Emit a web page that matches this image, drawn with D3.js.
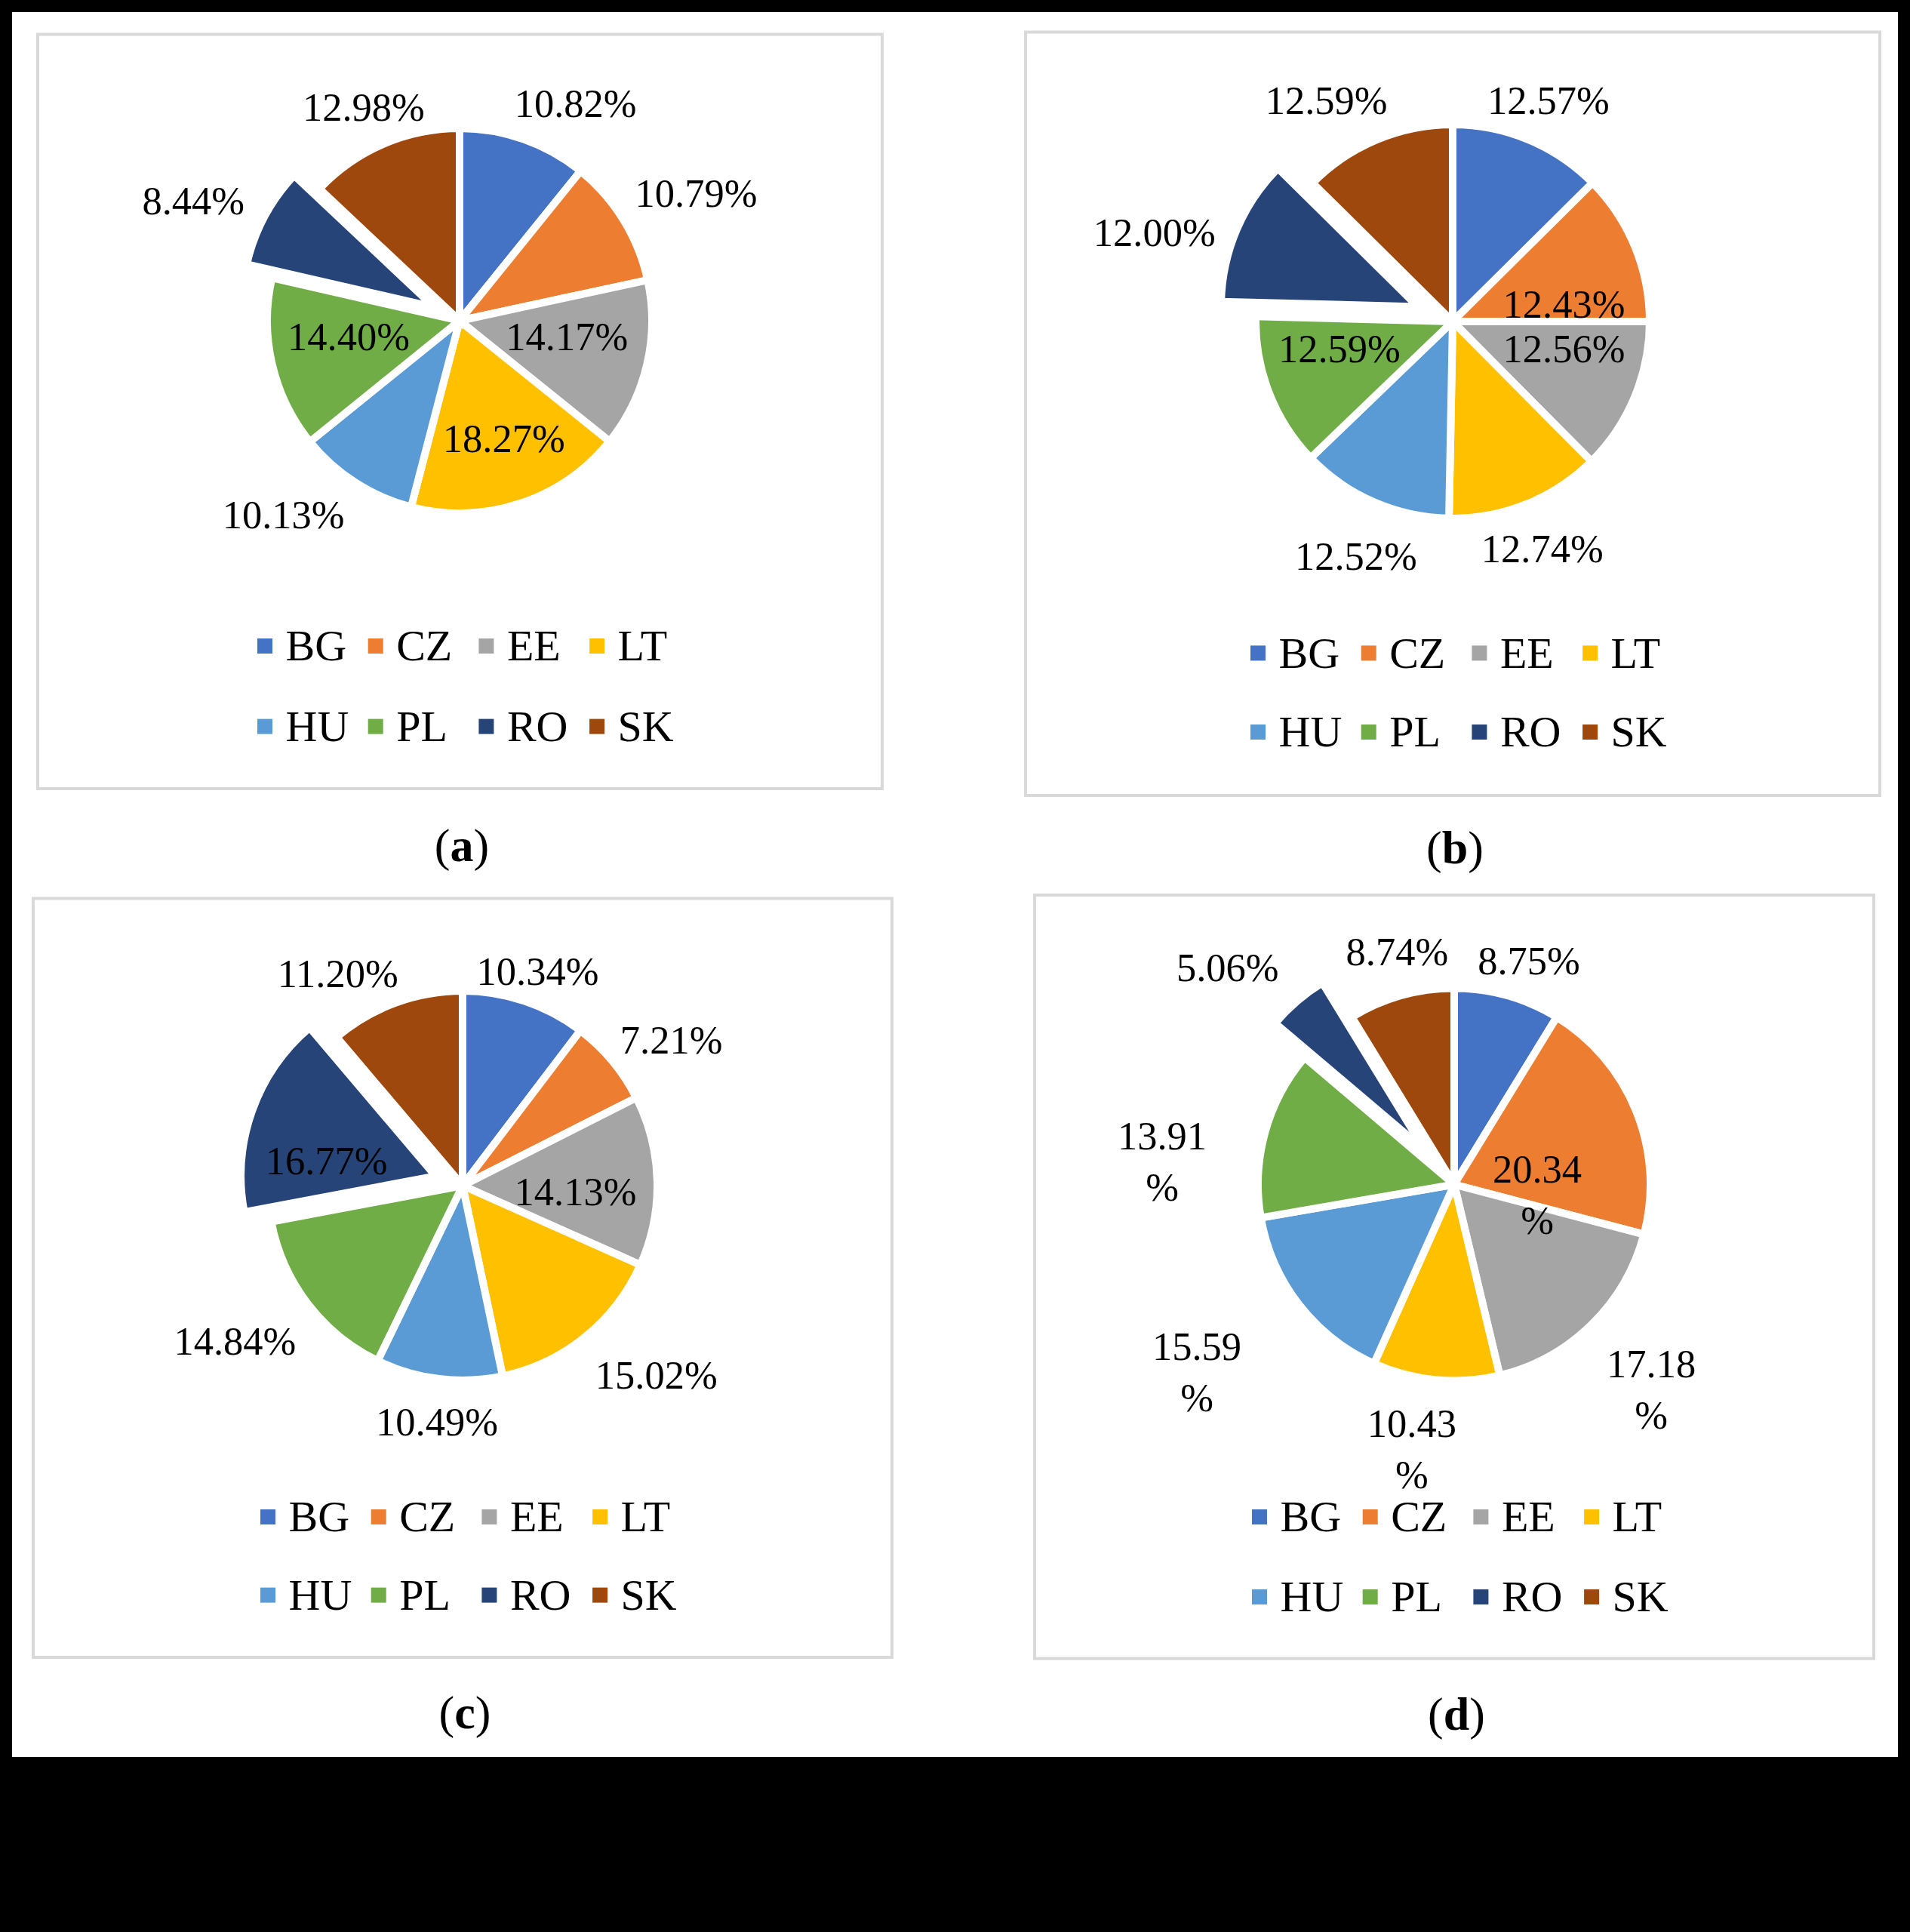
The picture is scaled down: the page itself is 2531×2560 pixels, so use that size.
<!DOCTYPE html>
<html><head><meta charset="utf-8">
<script src="https://cdn.jsdelivr.net/npm/d3@7"></script>
<style>html,body{margin:0;padding:0;background:#000;} svg{display:block;}</style>
</head><body>
<svg id="chart" width="2531" height="2560"></svg>
<script>
// ---------- data ----------
const countries = ["BG", "CZ", "EE", "LT", "HU", "PL", "RO", "SK"];
const valuesA = [10.82, 10.79, 14.17, 18.27, 10.13, 14.40, 8.44, 12.98];
const valuesB = [12.57, 12.43, 12.56, 12.74, 12.52, 12.59, 12.00, 12.59];
const valuesC = [10.34, 7.21, 14.13, 15.02, 10.49, 14.84, 16.77, 11.20];
const valuesD = [8.75, 20.34, 17.18, 10.43, 15.59, 13.91, 5.06, 8.74];
const panelLetters = ["a", "b", "c", "d"];
const explodedCategory = "RO";

// ---------- styles / layout ----------
const colors = ["#4472C4", "#ED7D31", "#A5A5A5", "#FFC000", "#5B9BD5", "#70AD47", "#264478", "#9E480E"];
const layouts = [
  { cx: 609, cy: 425, r: 250, explode: 38, box: [50, 45.5, 1169, 1045], legendY: [856, 962.6], captionY: 1141,
    labels: [[28.1,1.305],[61.7,1.424],[98.3,0.575],[159.4,0.668],[222.2,1.39],[261.9,0.594],[294.2,1.547],[335.8,1.241]],
    wrap: [0,0,0,0,0,0,0,0] },
  { cx: 1925, cy: 426, r: 256, explode: 50, box: [1359, 42.5, 2491, 1054], legendY: [865.4, 970], captionY: 1144,
    labels: [[23.45,1.245],[81.3,0.583],[103.7,0.593],[158.5,1.265],[202.4,1.314],[256.5,0.603],[286.6,1.611],[330.2,1.316]],
    wrap: [0,0,0,0,0,0,0,0] },
  { cx: 613, cy: 1571, r: 253, explode: 38, box: [44, 1190.5, 1182, 2196], legendY: [2010, 2113.6], captionY: 2289.5,
    labels: [[19.3,1.19],[55.1,1.333],[93.2,0.592],[134.4,1.42],[186.2,1.246],[235.6,1.445],[280.4,0.725],[329.5,1.287]],
    wrap: [0,0,0,0,0,0,0,0] },
  { cx: 1927, cy: 1569.5, r: 255, explode: 60, box: [1371, 1186, 2483, 2197.7], legendY: [2010, 2116], captionY: 2292,
    labels: [[18.5,1.224],[97.3,0.435],[136.1,1.477],[189.1,1.392],[233.9,1.655],[274.4,1.522],[313.7,1.629],[346.2,1.243]],
    wrap: [0,1,1,1,1,1,0,0] }
];
const panelValues = [valuesA, valuesB, valuesC, valuesD];

const FONT = "'Liberation Serif', 'Times New Roman', serif";
const strokeW = 10;

const svg = d3.select("#chart");
svg.append("rect").attr("x", 0).attr("y", 0).attr("width", 2531).attr("height", 2560).attr("fill", "#000");
svg.append("rect").attr("x", 16).attr("y", 16).attr("width", 2515 - 16).attr("height", 2328 - 16).attr("fill", "#fff");

const color = d3.scaleOrdinal().domain(countries).range(colors);
const pie = d3.pie().sort(null).value(d => d.v).startAngle(0).endAngle(2 * Math.PI);

panelValues.forEach((vals, pi) => {
  const L = layouts[pi];
  const g = svg.append("g");
  // box
  g.append("rect")
    .attr("x", L.box[0]).attr("y", L.box[1])
    .attr("width", L.box[2] - L.box[0]).attr("height", L.box[3] - L.box[1])
    .attr("fill", "#fff").attr("stroke", "#d9d9d9").attr("stroke-width", 4);

  const data = countries.map((c, i) => ({ c, v: vals[i] }));
  const arcs = pie(data);
  const arc = d3.arc().innerRadius(0).outerRadius(L.r + strokeW / 2);
  const pg = g.append("g").attr("transform", `translate(${L.cx},${L.cy})`);

  pg.selectAll("path.slice").data(arcs).enter().append("path")
    .attr("class", "slice")
    .attr("d", arc)
    .attr("fill", d => color(d.data.c))
    .attr("stroke", "#fff").attr("stroke-width", strokeW)
    .attr("transform", d => {
      if (d.data.c !== explodedCategory) return null;
      const m = (d.startAngle + d.endAngle) / 2;
      return `translate(${Math.sin(m) * L.explode},${-Math.cos(m) * L.explode})`;
    });

  // labels
  const fs = 52.5;
  arcs.forEach((d, i) => {
    const [deg, f] = L.labels[i];
    const a = deg * Math.PI / 180;
    const labArc = d3.arc().innerRadius(f * L.r).outerRadius(f * L.r);
    const [x, y] = labArc.centroid({ startAngle: a, endAngle: a });
    const txt = d.data.v.toFixed(2);
    const t = pg.append("text")
      .attr("x", x).attr("text-anchor", "middle")
      .attr("font-family", FONT).attr("font-size", fs).attr("fill", "#000");
    if (L.wrap[i]) {
      t.append("tspan").attr("x", x).attr("y", y - 34 + 0.338 * fs).text(txt);
      t.append("tspan").attr("x", x).attr("y", y + 34 + 0.338 * fs).text("%");
    } else {
      t.attr("y", y + 0.338 * fs).text(txt + "%");
    }
  });

  // legend
  const lfs = 58, sq = 20, step = 146.7;
  countries.forEach((c, i) => {
    const row = Math.floor(i / 4), col = i % 4;
    const x0 = L.cx - 268 + col * step;
    const yc = L.legendY[row];
    g.append("rect").attr("x", x0).attr("y", yc - sq / 2).attr("width", sq).attr("height", sq).attr("fill", color(c));
    g.append("text").attr("x", x0 + 37.5).attr("y", yc + 0.331 * lfs)
      .attr("font-family", FONT).attr("font-size", lfs).attr("fill", "#000").text(c);
  });

  // caption
  const cap = svg.append("text").attr("x", L.cx + 3).attr("y", L.captionY)
    .attr("text-anchor", "middle").attr("font-family", FONT).attr("font-size", 62).attr("fill", "#000");
  cap.append("tspan").text("(");
  cap.append("tspan").attr("font-weight", "bold").text(panelLetters[pi]);
  cap.append("tspan").text(")");
});
</script>
</body></html>
